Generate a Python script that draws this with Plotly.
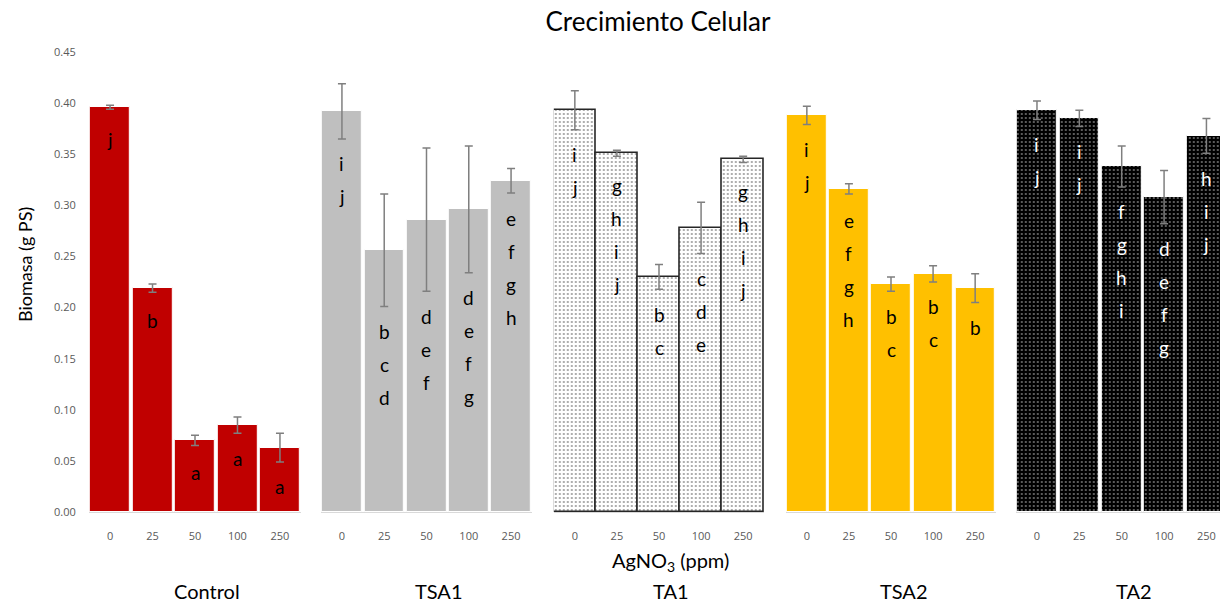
import plotly.graph_objects as go

# ---------------- data ----------------
doses = ["0", "25", "50", "100", "250"]
groups = ["Control", "TSA1", "TA1", "TSA2", "TA2"]

control_vals = [0.396, 0.219, 0.070, 0.085, 0.063]
control_err = [0.002, 0.004, 0.005, 0.008, 0.014]
control_letters = ["j", "b", "a", "a", "a"]

tsa1_vals = [0.392, 0.256, 0.286, 0.296, 0.324]
tsa1_err = [0.027, 0.055, 0.070, 0.062, 0.012]
tsa1_letters = ["ij", "bcd", "def", "defg", "efgh"]

ta1_vals = [0.393, 0.351, 0.230, 0.278, 0.345]
ta1_err = [0.019, 0.003, 0.012, 0.025, 0.003]
ta1_letters = ["ij", "ghij", "bc", "cde", "ghij"]

tsa2_vals = [0.388, 0.316, 0.223, 0.233, 0.219]
tsa2_err = [0.009, 0.005, 0.007, 0.008, 0.014]
tsa2_letters = ["ij", "efgh", "bc", "bc", "b"]

ta2_vals = [0.393, 0.385, 0.338, 0.308, 0.368]
ta2_err = [0.009, 0.008, 0.020, 0.026, 0.017]
ta2_letters = ["ij", "ij", "fghi", "defg", "hij"]

yticks = [0.00, 0.05, 0.10, 0.15, 0.20, 0.25, 0.30, 0.35, 0.40, 0.45]

# ---------------- layout constants ----------------
W, H = 1220, 605
MT, MB = 52, 93
Y_RANGE = [0, 0.45]
PX_PER_UNIT = (H - MT - MB) / (Y_RANGE[1] - Y_RANGE[0])

FONT = "Lato, 'Open Sans', sans-serif"
TICKFONT = "'Open Sans', Lato, sans-serif"

domains = [
    [88.8 / W, 301.2 / W],
    [320.8 / W, 532.2 / W],
    [553.8 / W, 764.2 / W],
    [785.8 / W, 996.2 / W],
    [1015.8 / W, 1.0],
]
x_ranges = [[-0.5, 4.5]] * 4 + [[-0.5, 4.32]]

series = [
    (control_vals, control_err, control_letters),
    (tsa1_vals, tsa1_err, tsa1_letters),
    (ta1_vals, ta1_err, ta1_letters),
    (tsa2_vals, tsa2_err, tsa2_letters),
    (ta2_vals, ta2_err, ta2_letters),
]

styles = [
    dict(marker=dict(color="#C00000", line=dict(color="white", width=1)), width=0.94, letter="black"),
    dict(marker=dict(color="#BFBFBF", line=dict(color="white", width=1)), width=0.94, letter="black"),
    dict(marker=dict(color="white",
                     pattern=dict(shape=".", fgcolor="#9a9a9a", bgcolor="white",
                                  size=4, solidity=0.22, fillmode="replace"),
                     line=dict(color="#262626", width=1.6)), width=1.0, letter="black"),
    dict(marker=dict(color="#FFC000", line=dict(color="white", width=1)), width=0.94, letter="black"),
    dict(marker=dict(color="black",
                     pattern=dict(shape=".", fgcolor="#d0d0d0", bgcolor="black",
                                  size=4, solidity=0.13, fillmode="replace"),
                     line=dict(color="white", width=1)), width=0.94, letter="white"),
]

fig = go.Figure()
annotations = []

LINE_STEP = 33     # px between stacked letters
TOP_PAD = 32       # px below bar top for first letter
ERR_PAD = 25       # px below error bar lower end for first letter

for i, (vals, errs, letters) in enumerate(series):
    xa = "x" if i == 0 else f"x{i+1}"
    st = styles[i]
    fig.add_trace(go.Bar(
        x=doses, y=vals, xaxis=xa, yaxis="y",
        marker=st["marker"], width=st["width"],
        error_y=dict(type="data", array=errs, visible=True,
                     color="#7f7f7f", thickness=1.5, width=4),
        showlegend=False, hoverinfo="x+y",
    ))
    for j, (v, e, lab) in enumerate(zip(vals, errs, letters)):
        first = max(TOP_PAD, e * PX_PER_UNIT + ERR_PAD)
        for k, ch in enumerate(lab):
            annotations.append(dict(
                x=j, y=v, xref=xa, yref="y", text=ch, showarrow=False,
                yanchor="middle", yshift=-(first + k * LINE_STEP),
                font=dict(family=FONT, size=19, color=st["letter"]),
            ))
    # group label under the middle dose
    annotations.append(dict(
        x=doses.index("50"), y=-0.172, xref=xa, yref="paper", text=groups[i],
        showarrow=False, yanchor="middle", xshift=12,
        font=dict(family=FONT, size=20, color="black"),
    ))

annotations.append(dict(
    x=670 / W, y=-0.108, xref="paper", yref="paper", text="AgNO<sub>3</sub> (ppm)",
    showarrow=False, yanchor="middle", font=dict(family=FONT, size=20, color="black"),
))
annotations.append(dict(
    x=25 / W, y=0.537, xref="paper", yref="paper", text="Biomasa (g PS)",
    showarrow=False, textangle=-90, xanchor="center", yanchor="middle",
    font=dict(family=FONT, size=18, color="black"),
))

layout = dict(
    width=W, height=H,
    margin=dict(l=0, r=0, t=MT, b=MB),
    paper_bgcolor="white", plot_bgcolor="white",
    title=dict(text="Crecimiento Celular", x=658 / W, xanchor="center",
               y=1 - 22 / H, yanchor="middle",
               font=dict(family=FONT, size=26, color="black")),
    yaxis=dict(range=Y_RANGE, tickvals=yticks, tickformat=".2f",
               showgrid=False, zeroline=False, showline=False,
               ticks="", ticklabelstandoff=12,
               tickfont=dict(family=TICKFONT, size=11, color="#595959"),
               anchor="x"),
    annotations=annotations,
    bargap=0,
)
for i in range(5):
    key = "xaxis" if i == 0 else f"xaxis{i+1}"
    layout[key] = dict(domain=domains[i], range=x_ranges[i], type="category",
                       categoryorder="array", categoryarray=doses,
                       showgrid=False, zeroline=False,
                       showline=True, linecolor="#d9d9d9", linewidth=1,
                       ticks="", ticklabelstandoff=14, anchor="y",
                       tickfont=dict(family=TICKFONT, size=11, color="#595959"))

fig.update_layout(**layout)
fig.write_html("out.html")
